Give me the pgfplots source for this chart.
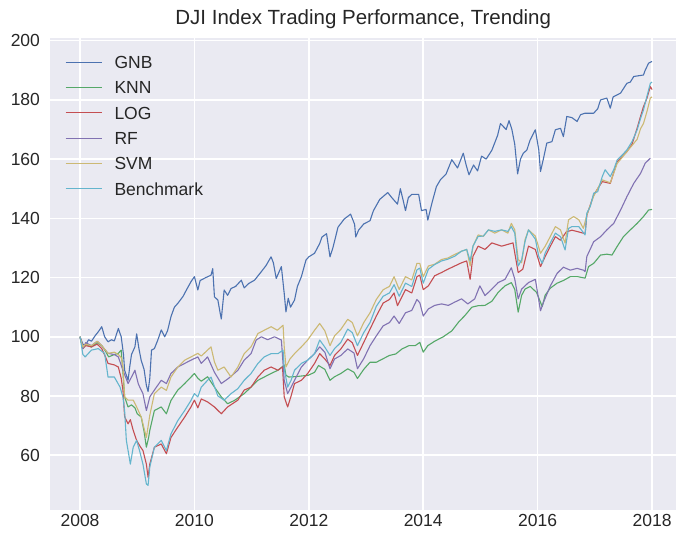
\documentclass[border=0pt]{standalone}
\usepackage{pgfplots}
\pgfplotsset{compat=1.18}
\usepackage{fontspec}
\setmainfont{Liberation Sans}
\definecolor{sbbg}{HTML}{EAEAF2}
\definecolor{sbtext}{HTML}{262626}
\definecolor{cGNB}{HTML}{4C72B0}
\definecolor{cKNN}{HTML}{55A868}
\definecolor{cLOG}{HTML}{C44E52}
\definecolor{cRF}{HTML}{8172B2}
\definecolor{cSVM}{HTML}{CCB974}
\definecolor{cBEN}{HTML}{64B5CD}
\begin{document}
\begin{tikzpicture}
\useasboundingbox (-50.5pt,-25pt) rectangle (625.5pt,510pt);
\begin{axis}[
  at={(0pt,0pt)}, anchor=south west,
  scale only axis, width=625.5pt, height=472pt,
  xmin=2007.484, xmax=2018.419, ymin=41.5, ymax=200.9,
  axis background/.style={fill=sbbg},
  axis line style={draw=none},
  major tick length=0pt,
  grid=major, grid style={white, line width=1.6pt},
  xtick={2008,2010,2012,2014,2016,2018},
  ytick={60,80,100,120,140,160,180,200},
  /pgf/number format/1000 sep={},
  /pgf/number format/assume math mode=true,
  tick label style={font=\fontsize{17.5}{20}\selectfont, text=sbtext},
  yticklabel style={xshift=-7pt},
  xticklabel style={yshift=-1pt},
  title={DJI Index Trading Performance, Trending},
  title style={font=\fontsize{20.5}{24}\selectfont, text=sbtext, yshift=0pt},
  legend style={at={(0.0232,0.966)}, anchor=north west, draw=none, fill=none,
     inner sep=0pt, outer sep=0pt, font=\fontsize{17.5}{20}\selectfont, text=sbtext,
     row sep=8.7pt, nodes={inner sep=2pt, text height=12.6pt, text depth=0pt}},
  legend cell align=left,
  legend image code/.code={\draw[#1, line width=1pt] (0pt,0pt) -- (36pt,0pt); \path[draw=none] (0pt,0pt) -- (47pt,0pt);},
  every axis plot/.append style={line width=1.1pt, line join=round},
]
\addplot[cGNB] coordinates {
(2008.00,100) (2008.05,97.5) (2008.09,97) (2008.15,99) (2008.2,98.5) (2008.27,100.5) (2008.32,101.7) (2008.38,103.4) (2008.43,100) (2008.49,98.3) (2008.55,99) (2008.6,98.6) (2008.67,102.8) (2008.72,100) (2008.76,94) (2008.78,88.7) (2008.84,85.3) (2008.87,90) (2008.9,94) (2008.96,96.6) (2008.99,101) (2009.03,96) (2009.07,92) (2009.12,89) (2009.16,83.6) (2009.19,81.5) (2009.22,86) (2009.25,95.5) (2009.3,96) (2009.36,98.9) (2009.42,102.3) (2009.48,100) (2009.53,102) (2009.59,106.8) (2009.65,110) (2009.71,111.3) (2009.8,113.6) (2009.86,115.8) (2009.94,118.6) (2010.0,120.3) (2010.06,115.8) (2010.1,119) (2010.2,120) (2010.29,120.8) (2010.32,123) (2010.35,113.5) (2010.41,112.4) (2010.45,108) (2010.47,106) (2010.52,115.8) (2010.58,114) (2010.64,116.3) (2010.72,117) (2010.82,119.1) (2010.87,116.5) (2010.95,118) (2011.05,119.1) (2011.17,122) (2011.25,124) (2011.34,127) (2011.38,125) (2011.43,119.7) (2011.52,123.7) (2011.57,114.6) (2011.6,108.4) (2011.64,113) (2011.68,110) (2011.75,112.4) (2011.8,117) (2011.87,120.3) (2011.95,125.9) (2012.0,127) (2012.1,128.2) (2012.19,131.5) (2012.23,133.7) (2012.31,134.8) (2012.37,127) (2012.42,130) (2012.51,137) (2012.62,139.8) (2012.73,141.4) (2012.8,138) (2012.82,133.7) (2012.87,136) (2012.96,138.1) (2013.07,139.2) (2013.13,142.6) (2013.24,146.4) (2013.38,148.7) (2013.45,147) (2013.55,144.8) (2013.6,150) (2013.65,146) (2013.69,142.6) (2013.74,147) (2013.8,148.1) (2013.92,148.1) (2013.97,142.6) (2014.05,143) (2014.08,139.4) (2014.15,145) (2014.23,150.7) (2014.3,153) (2014.4,155) (2014.5,159.8) (2014.6,157) (2014.7,162) (2014.75,158) (2014.8,154.7) (2014.88,158) (2014.95,156) (2015.02,161) (2015.1,160) (2015.2,163) (2015.3,168) (2015.35,172) (2015.45,170) (2015.5,173) (2015.55,170) (2015.6,165) (2015.65,155) (2015.7,160) (2015.75,162) (2015.81,163) (2015.87,166.5) (2015.96,169.9) (2016.02,163.1) (2016.05,155.8) (2016.1,160) (2016.16,165.4) (2016.25,165.9) (2016.31,169.9) (2016.4,170.4) (2016.45,167.6) (2016.51,174.4) (2016.6,174) (2016.69,172.7) (2016.75,175) (2016.83,175.5) (2016.98,175.5) (2017.05,177) (2017.1,180) (2017.21,180.6) (2017.27,177.2) (2017.32,181) (2017.45,182.3) (2017.56,185.6) (2017.62,186) (2017.68,187.9) (2017.85,188.4) (2017.88,190) (2017.94,192.4) (2018.0,193)
};
\addlegendentry{GNB}
\addplot[cKNN] coordinates {
(2008.0,100) (2008.05,96) (2008.1,97.5) (2008.2,96.5) (2008.3,98) (2008.38,97) (2008.45,95) (2008.5,93.2) (2008.6,94) (2008.67,94.4) (2008.72,95.5) (2008.75,88) (2008.78,79.7) (2008.84,76.3) (2008.9,77) (2008.96,76) (2009.0,74) (2009.07,72.9) (2009.12,68) (2009.16,62.7) (2009.2,66) (2009.22,68.4) (2009.3,75.1) (2009.42,76.3) (2009.51,74) (2009.59,78.5) (2009.71,82) (2009.83,84.2) (2009.94,86.4) (2010.0,87.6) (2010.06,86) (2010.12,85) (2010.23,86.5) (2010.35,83) (2010.47,79.7) (2010.58,77.4) (2010.7,78.5) (2010.87,80.8) (2010.99,83) (2011.11,85.3) (2011.22,86.4) (2011.34,87.6) (2011.46,88.7) (2011.57,90.4) (2011.6,87) (2011.65,86.4) (2011.8,86.6) (2011.99,87) (2012.1,88) (2012.17,90.3) (2012.28,89) (2012.37,85.3) (2012.45,86.5) (2012.56,87.6) (2012.68,89.2) (2012.79,88) (2012.85,85.9) (2012.96,89) (2013.07,91.4) (2013.18,91.4) (2013.3,92.6) (2013.41,93.7) (2013.52,94.2) (2013.63,95.9) (2013.75,97) (2013.86,97) (2013.94,98.1) (2014.0,94.8) (2014.08,97) (2014.2,98.5) (2014.35,100) (2014.5,102) (2014.62,105) (2014.73,107.2) (2014.85,110) (2014.96,110.5) (2015.08,110.6) (2015.2,112) (2015.31,115) (2015.43,117.2) (2015.54,118.3) (2015.6,116) (2015.66,108.3) (2015.72,114) (2015.78,116.1) (2015.87,117) (2015.98,115) (2016.08,110.2) (2016.13,114) (2016.22,116.4) (2016.34,118.1) (2016.45,119) (2016.57,120.3) (2016.7,120.3) (2016.83,119.8) (2016.89,123.7) (2016.98,124.8) (2017.1,127.6) (2017.21,127.9) (2017.3,127.6) (2017.39,130.5) (2017.5,133.8) (2017.62,136.1) (2017.74,138.3) (2017.85,140.6) (2017.94,142.8) (2018.0,143)
};
\addlegendentry{KNN}
\addplot[cLOG] coordinates {
(2008.0,100) (2008.05,96) (2008.1,97) (2008.2,96.6) (2008.3,97.5) (2008.38,96) (2008.45,93) (2008.49,91) (2008.6,90.5) (2008.67,89.8) (2008.72,86) (2008.75,82) (2008.78,73) (2008.84,70.6) (2008.88,72) (2008.93,68.4) (2008.99,65) (2009.05,63) (2009.1,61.6) (2009.16,57) (2009.19,52.5) (2009.22,57) (2009.3,62.7) (2009.42,63.8) (2009.51,60.5) (2009.59,66) (2009.71,69.5) (2009.83,72.9) (2009.94,76.3) (2010.0,78.6) (2010.06,76) (2010.12,79) (2010.23,78) (2010.35,76.3) (2010.47,74) (2010.58,76.3) (2010.76,78.6) (2010.87,82) (2010.99,83) (2011.11,86.4) (2011.22,88.7) (2011.34,89.8) (2011.46,88.7) (2011.54,89.8) (2011.57,79.7) (2011.63,76.3) (2011.69,80) (2011.75,84.2) (2011.87,85.3) (2011.98,87.6) (2012.1,91) (2012.19,94.3) (2012.28,92.5) (2012.37,90.3) (2012.45,93.7) (2012.56,95.9) (2012.68,99.2) (2012.76,98) (2012.85,93.7) (2012.96,98.1) (2013.07,102.6) (2013.18,107) (2013.3,111.4) (2013.41,112.6) (2013.49,114.8) (2013.55,110.5) (2013.69,115.9) (2013.8,114.8) (2013.89,120.3) (2013.94,120.8) (2014.0,115.9) (2014.09,117.2) (2014.2,120.6) (2014.32,121.7) (2014.43,122.8) (2014.55,123.9) (2014.67,125) (2014.76,125.6) (2014.82,119.4) (2014.87,127.2) (2014.96,130.6) (2015.08,129.5) (2015.2,131.7) (2015.37,130.6) (2015.48,131.2) (2015.57,131.7) (2015.66,121.7) (2015.74,122.8) (2015.84,130.6) (2015.96,129.5) (2016.05,123.7) (2016.13,127) (2016.22,130.5) (2016.31,133.8) (2016.4,132.6) (2016.5,135.4) (2016.6,136) (2016.72,135.4) (2016.83,134.8) (2016.86,141) (2016.98,147.9) (2017.13,152.4) (2017.27,151.8) (2017.39,159.1) (2017.56,162.5) (2017.65,165) (2017.74,170.5) (2017.8,174.5) (2017.85,177.7) (2017.91,180.5) (2017.97,184.5) (2018.0,183.5)
};
\addlegendentry{LOG}
\addplot[cRF] coordinates {
(2008.0,100) (2008.05,96) (2008.1,98) (2008.2,97) (2008.3,98.5) (2008.38,97) (2008.49,94.4) (2008.6,94) (2008.67,93.2) (2008.75,88.7) (2008.84,84.2) (2008.9,86.4) (2008.96,88.7) (2009.02,84) (2009.1,80.8) (2009.16,75.1) (2009.22,79.7) (2009.3,82) (2009.42,85.3) (2009.51,84.2) (2009.59,87.6) (2009.71,89.8) (2009.83,91) (2009.94,92.1) (2010.06,93.2) (2010.12,91) (2010.23,93.2) (2010.35,88) (2010.47,84.2) (2010.6,86) (2010.76,88.7) (2010.87,92.1) (2010.99,94.3) (2011.08,98.9) (2011.17,100) (2011.28,99) (2011.4,100) (2011.52,98.9) (2011.57,85.3) (2011.63,80.8) (2011.69,83) (2011.75,85.3) (2011.87,89.8) (2011.98,92.1) (2012.1,94.3) (2012.19,96.6) (2012.28,94.8) (2012.37,89.2) (2012.45,92.5) (2012.56,93.7) (2012.68,95.9) (2012.79,94.5) (2012.85,89.2) (2012.96,92.6) (2013.07,97) (2013.18,100.3) (2013.3,103.7) (2013.41,104.8) (2013.49,107) (2013.58,104.5) (2013.69,108.1) (2013.8,108.9) (2013.89,112.6) (2013.94,111.5) (2014.0,107) (2014.09,109.4) (2014.2,110.6) (2014.32,111.1) (2014.44,110.6) (2014.55,111.7) (2014.67,112.8) (2014.78,111.1) (2014.9,112.8) (2014.99,117.2) (2015.08,113.9) (2015.2,116.1) (2015.31,118.3) (2015.43,119.4) (2015.54,123.3) (2015.6,119.5) (2015.66,112.8) (2015.72,116.1) (2015.84,118.3) (2015.96,119.4) (2016.05,108.8) (2016.11,112) (2016.22,117.1) (2016.34,121.4) (2016.45,123.5) (2016.57,122.5) (2016.69,123.1) (2016.8,122.5) (2016.83,122) (2016.86,127.1) (2016.98,132.1) (2017.1,133.8) (2017.21,136.1) (2017.33,138.3) (2017.45,142.8) (2017.56,147.3) (2017.68,151.8) (2017.8,155.2) (2017.88,158.6) (2017.97,160.3)
};
\addlegendentry{RF}
\addplot[cSVM] coordinates {
(2008.0,100) (2008.05,96.5) (2008.1,97.5) (2008.2,97) (2008.3,98.5) (2008.38,97) (2008.49,94.4) (2008.6,94.8) (2008.67,94) (2008.72,93) (2008.75,90) (2008.78,79.7) (2008.84,78.6) (2008.93,78.6) (2008.99,76.3) (2009.07,72.9) (2009.16,66) (2009.22,73.5) (2009.3,80.8) (2009.42,83) (2009.51,81.9) (2009.59,86.4) (2009.71,89.8) (2009.83,92.1) (2009.94,93.2) (2010.06,94.4) (2010.12,93.5) (2010.23,95.5) (2010.29,96.6) (2010.35,91.5) (2010.41,88.7) (2010.52,89.8) (2010.64,86.4) (2010.76,89.8) (2010.87,94.3) (2010.99,96.6) (2011.11,101.1) (2011.22,102.2) (2011.34,103.4) (2011.45,102.2) (2011.55,103.9) (2011.57,96.6) (2011.6,89.8) (2011.67,92.5) (2011.75,94.3) (2011.87,96.6) (2011.98,98.9) (2012.1,102.2) (2012.19,104.5) (2012.28,102) (2012.37,97) (2012.45,100.3) (2012.56,102.5) (2012.68,105.9) (2012.76,104.8) (2012.85,100.3) (2012.96,104.8) (2013.07,108.1) (2013.18,112.6) (2013.3,115.9) (2013.41,117) (2013.49,120.3) (2013.58,116) (2013.69,120.3) (2013.8,119.2) (2013.89,124.8) (2013.94,124.8) (2014.0,120.3) (2014.09,123.9) (2014.2,124.5) (2014.32,126.1) (2014.43,126.6) (2014.55,127.8) (2014.67,128.9) (2014.76,129.5) (2014.82,123.9) (2014.87,130.6) (2014.96,134.4) (2015.05,133.9) (2015.14,136.1) (2015.25,135) (2015.37,136.1) (2015.48,135) (2015.54,138.3) (2015.6,136.1) (2015.66,126.1) (2015.72,125) (2015.78,132.8) (2015.84,136.1) (2015.96,134) (2016.05,128.2) (2016.13,130.5) (2016.22,133.8) (2016.31,137.2) (2016.4,136.1) (2016.48,131.6) (2016.54,139.5) (2016.63,140.6) (2016.72,139.5) (2016.8,136.6) (2016.86,141.2) (2016.98,147.5) (2017.13,153) (2017.27,152) (2017.39,158.5) (2017.56,162.5) (2017.74,166.7) (2017.8,170.3) (2017.85,172) (2017.91,176) (2017.97,180.6) (2018.0,181)
};
\addlegendentry{SVM}
\addplot[cBEN] coordinates {
(2008.0,100) (2008.05,94) (2008.09,93.2) (2008.2,95.5) (2008.32,96) (2008.43,94.4) (2008.49,86.4) (2008.6,86.4) (2008.7,83) (2008.75,79.7) (2008.78,75) (2008.81,65) (2008.84,61.6) (2008.88,57) (2008.93,62.7) (2008.99,65) (2009.04,61.6) (2009.1,57) (2009.16,50.3) (2009.19,49.8) (2009.22,56) (2009.3,62.7) (2009.42,65) (2009.51,61.6) (2009.59,67.2) (2009.71,71.7) (2009.83,75.1) (2009.94,78.5) (2010.0,80.8) (2010.06,79.7) (2010.12,83) (2010.23,85.3) (2010.29,86.4) (2010.41,80) (2010.52,78.6) (2010.64,80.8) (2010.76,82.5) (2010.87,85.3) (2010.99,87.6) (2011.11,91) (2011.22,93.2) (2011.34,94.3) (2011.46,94.3) (2011.55,95.5) (2011.57,89.2) (2011.63,83) (2011.69,85.3) (2011.75,88.7) (2011.87,91) (2011.98,92.1) (2012.1,94.3) (2012.19,98.9) (2012.28,96.5) (2012.37,93.7) (2012.45,96) (2012.56,98.1) (2012.68,102.6) (2012.76,101.4) (2012.85,97) (2012.96,101.4) (2013.07,104.8) (2013.18,110.3) (2013.3,113.7) (2013.41,114.8) (2013.49,117.6) (2013.58,113.7) (2013.69,118.1) (2013.8,117) (2013.89,122.6) (2013.94,123.2) (2014.0,118.1) (2014.09,122.8) (2014.2,124.4) (2014.32,125.6) (2014.43,126.2) (2014.55,127.2) (2014.67,128.9) (2014.76,129.5) (2014.82,125.6) (2014.87,130.6) (2014.96,133.9) (2015.05,134) (2015.14,136.1) (2015.25,135.6) (2015.37,136.1) (2015.48,135.6) (2015.54,137.2) (2015.6,135) (2015.66,123.9) (2015.72,126) (2015.78,132.2) (2015.84,136.1) (2015.96,133) (2016.02,127.1) (2016.08,124.8) (2016.13,128.2) (2016.22,131.6) (2016.31,135) (2016.4,133.8) (2016.48,129.3) (2016.54,136.6) (2016.6,137.2) (2016.72,137.2) (2016.83,134.4) (2016.86,141.7) (2016.92,144) (2016.98,148.5) (2017.05,149) (2017.13,154.1) (2017.18,156.4) (2017.27,154.1) (2017.33,156.4) (2017.39,159.7) (2017.48,161.4) (2017.56,163.1) (2017.65,165.9) (2017.74,169.9) (2017.8,173.8) (2017.85,176.6) (2017.91,181.1) (2017.97,185.6) (2018.0,186)
};
\addlegendentry{Benchmark}
\end{axis}
\end{tikzpicture}
\end{document}
